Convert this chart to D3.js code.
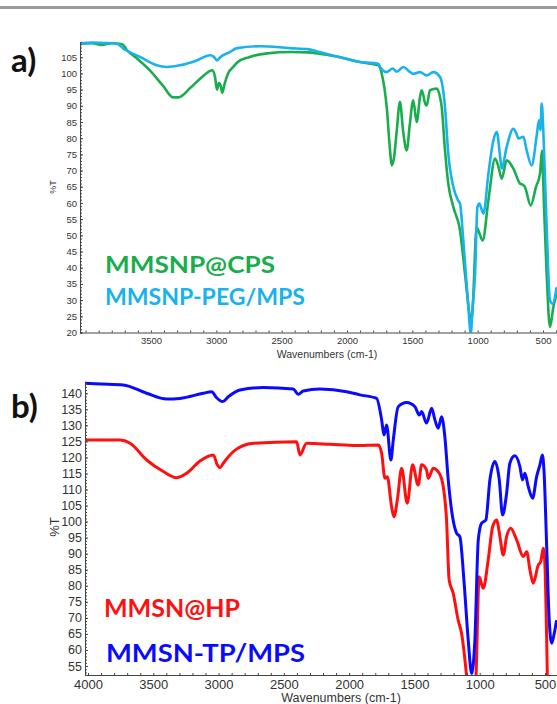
<!DOCTYPE html>
<html>
<head>
<meta charset="utf-8">
<script src="https://cdn.jsdelivr.net/npm/d3@7"></script>
<style>
  html, body { margin: 0; padding: 0; background: #fff; }
  svg { display: block; }
</style>
</head>
<body>
<svg id="chart" width="557" height="704"></svg>
<script>
// panel a) MMSNP@CPS
const cpsWavenumber = [4040, 3950, 3880, 3800, 3720, 3680, 3600, 3510, 3410, 3330, 3290, 3200, 3120, 3060, 3030, 3010, 2995, 2980, 2965, 2955, 2935, 2910, 2870, 2840, 2750, 2610, 2430, 2300, 2200, 2050, 1900, 1760, 1734, 1696, 1670, 1658, 1640, 1620, 1595, 1570, 1543, 1520, 1493, 1467, 1440, 1428, 1400, 1390, 1365, 1314, 1290, 1275, 1250, 1225, 1186, 1135, 1097, 1059, 1050, 1038, 1008, 990, 962, 918, 867, 840, 816, 778, 727, 676, 650, 638, 594, 554, 523, 508, 492, 472, 447, 421, 396];
const cpsTransmittance = [109.2, 109.3, 108.8, 109.3, 109.0, 107.0, 104.4, 101.0, 96.3, 92.6, 92.6, 95.5, 98.5, 100.5, 101.0, 99.0, 95.0, 97.0, 96.0, 94.0, 97.0, 100.0, 102.0, 103.4, 105.0, 106.2, 106.6, 106.5, 106.0, 105.0, 103.5, 102.5, 99.9, 89.6, 76.0, 71.6, 74.0, 82.0, 91.2, 82.0, 76.2, 84.0, 91.7, 85.0, 93.0, 94.8, 90.5, 90.1, 94.8, 95.3, 93.0, 89.6, 76.2, 66.0, 58.7, 51.5, 38.1, 24.7, 23.0, 27.8, 52.5, 51.0, 48.4, 60.8, 73.7, 71.0, 67.5, 73.2, 70.6, 66.0, 65.5, 64.9, 59.2, 64.9, 69.0, 76.2, 58.7, 38.1, 21.7, 27.8, 31.9];

// panel a) MMSNP-PEG/MPS
const pegWavenumber = [4040, 3950, 3850, 3760, 3712, 3584, 3456, 3380, 3278, 3150, 3048, 3020, 2995, 2970, 2900, 2842, 2660, 2436, 2300, 2200, 2054, 1901, 1760, 1747, 1696, 1650, 1620, 1569, 1520, 1493, 1442, 1390, 1339, 1288, 1250, 1225, 1186, 1150, 1135, 1110, 1071, 1053, 1040, 1020, 1002, 987, 970, 956, 918, 880, 854, 830, 816, 778, 727, 700, 689, 650, 625, 587, 548, 531, 520, 510, 497, 472, 447, 426, 396];
const pegTransmittance = [109.3, 109.5, 109.4, 109.2, 107.7, 105.1, 102.5, 102.0, 102.5, 104.0, 105.6, 105.2, 104.0, 105.0, 106.5, 107.8, 108.4, 107.8, 107.5, 106.5, 105.0, 103.5, 103.0, 102.0, 100.4, 101.5, 100.5, 102.0, 100.5, 99.9, 100.4, 99.4, 100.4, 98.9, 89.6, 75.2, 64.9, 60.8, 59.8, 48.4, 27.8, 19.6, 27.0, 38.1, 58.7, 59.8, 58.0, 56.7, 69.0, 79.3, 81.9, 75.0, 70.6, 77.3, 82.9, 81.0, 79.9, 80.4, 76.2, 71.6, 80.9, 85.5, 82.5, 90.7, 81.4, 52.5, 29.9, 28.9, 34.0];

// panel b) MMSN@HP
const hpWavenumber = [4023, 3755, 3678, 3551, 3423, 3321, 3244, 3142, 3040, 3010, 2989, 2964, 2887, 2734, 2402, 2377, 2326, 2147, 1943, 1777, 1751, 1726, 1708, 1675, 1657, 1631, 1598, 1555, 1514, 1471, 1445, 1407, 1394, 1356, 1318, 1284, 1254, 1234, 1203, 1165, 1139, 1100, 1085, 1040, 1030, 1004, 973, 935, 901, 871, 845, 820, 794, 763, 717, 666, 640, 615, 590, 551, 533, 513, 500, 487, 475, 450];
const hpTransmittance = [125.4, 125.4, 124.4, 119.2, 115.6, 113.7, 115.1, 118.9, 120.8, 117.7, 116.8, 118.2, 121.8, 124.4, 124.9, 120.8, 124.4, 124.1, 123.7, 123.9, 121.3, 113.5, 114.0, 104.7, 101.5, 106.7, 116.6, 105.7, 117.7, 111.4, 117.7, 116.1, 113.5, 116.6, 115.6, 112.0, 100.5, 81.8, 77.7, 69.3, 65.2, 51.7, 45.0, 45.0, 50.0, 82.8, 79.2, 88.0, 98.4, 100.5, 95.3, 89.6, 95.3, 97.9, 94.3, 89.1, 90.6, 84.9, 80.8, 86.5, 87.5, 91.7, 86.0, 63.1, 40.0, 40.0];

// panel b) MMSN-TP/MPS
const tpWavenumber = [4023, 3900, 3730, 3551, 3397, 3296, 3117, 3053, 3015, 2969, 2926, 2836, 2658, 2428, 2390, 2351, 2224, 2019, 1917, 1790, 1751, 1733, 1713, 1680, 1662, 1624, 1560, 1496, 1463, 1445, 1407, 1368, 1343, 1318, 1292, 1267, 1241, 1208, 1177, 1152, 1121, 1088, 1062, 1037, 1011, 986, 953, 922, 884, 850, 825, 794, 769, 731, 692, 672, 654, 628, 595, 564, 539, 520, 508, 487, 470, 449, 429, 411];
const tpTransmittance = [143.1, 142.9, 142.6, 140.0, 138.2, 138.4, 140.0, 140.5, 138.6, 137.4, 138.9, 141.0, 141.8, 141.3, 139.7, 140.7, 141.3, 140.5, 139.5, 138.4, 131.7, 127.0, 130.1, 119.2, 125.4, 135.8, 137.1, 135.8, 133.2, 134.3, 130.7, 135.3, 131.7, 129.1, 132.7, 126.5, 113.0, 101.5, 96.4, 95.3, 81.8, 63.1, 52.7, 63.1, 94.3, 99.5, 100.5, 113.0, 118.7, 113.0, 102.1, 108.8, 118.2, 120.5, 117.1, 113.0, 115.1, 110.9, 107.3, 114.0, 117.7, 120.8, 116.1, 92.2, 71.4, 62.1, 65.2, 69.3];

// tick labels
const topYTicks = [20, 25, 30, 35, 40, 45, 50, 55, 60, 65, 70, 75, 80, 85, 90, 95, 100, 105];
const topXTicks = [3500, 3000, 2500, 2000, 1500, 1000, 500];
const bottomYTicks = [55, 60, 65, 70, 75, 80, 85, 90, 95, 100, 105, 110, 115, 120, 125, 130, 135, 140];
const bottomXTicks = [4000, 3500, 3000, 2500, 2000, 1500, 1000, 500];

const svg = d3.select("#chart");

// grey rule at the very top
svg.append("rect")
  .attr("x", 0).attr("y", 6)
  .attr("width", 557).attr("height", 3)
  .attr("fill", "#9a9a9a");

function drawPanel(p) {
  const g = svg.append("g");
  const x = d3.scaleLinear().domain(p.xDomain).range(p.xRange);
  const y = d3.scaleLinear().domain(p.yDomain).range(p.yRange);

  const clipId = "clip-" + p.id;
  svg.append("clipPath").attr("id", clipId)
    .append("rect")
    .attr("x", p.xRange[0]).attr("y", p.yRange[1] - 2)
    .attr("width", p.xRange[1] - p.xRange[0])
    .attr("height", p.yRange[0] - p.yRange[1] + 2);

  // spectra
  const line = d3.line()
    .x(d => x(d[0]))
    .y(d => y(d[1]))
    .curve(d3.curveMonotoneX);

  p.series.forEach(s => {
    g.append("path")
      .datum(d3.zip(s.wn, s.t))
      .attr("clip-path", `url(#${clipId})`)
      .attr("fill", "none")
      .attr("stroke", s.color)
      .attr("stroke-width", p.lineWidth)
      .attr("stroke-linejoin", "round")
      .attr("d", line);
  });

  // y axis: minor ticks every unit, major every 5
  const yMinor = d3.range(Math.ceil(p.yDomain[0]), Math.floor(p.yDomain[1]) + 1);
  const yAxis = d3.axisRight(y).tickValues(yMinor).tickSize(2).tickFormat("");
  const ya = g.append("g").attr("transform", `translate(${p.xRange[0]},0)`).call(yAxis);
  ya.select(".domain").attr("stroke", "#444");
  ya.selectAll(".tick line").attr("stroke", "#444");

  g.append("g").attr("transform", `translate(${p.xRange[0]},0)`)
    .call(d3.axisLeft(y).tickValues(p.yTicks).tickSize(2).tickPadding(1))
    .call(a => a.select(".domain").remove())
    .call(a => a.selectAll(".tick line").attr("stroke", "#444").attr("x2", 3))
    .call(a => a.selectAll("text")
      .attr("fill", "#333")
      .style("font-family", "Liberation Sans, Arial, sans-serif")
      .style("font-size", p.yFont + "px"));

  // x axis
  const xMinor = d3.range(4000, 399, -100);
  const xa = g.append("g").attr("transform", `translate(0,${p.yRange[0]})`)
    .call(d3.axisTop(x).tickValues(xMinor).tickSize(2).tickFormat(""));
  xa.select(".domain").attr("stroke", "#444");
  xa.selectAll(".tick line").attr("stroke", "#444");

  g.append("g").attr("transform", `translate(0,${p.yRange[0]})`)
    .call(d3.axisBottom(x).tickValues(p.xTicks).tickSize(0).tickPadding(p.xPad).tickFormat(d3.format("d")))
    .call(a => a.select(".domain").remove())
    .call(a => a.selectAll("text")
      .attr("fill", "#333")
      .style("font-family", "Liberation Sans, Arial, sans-serif")
      .style("font-size", p.xFont + "px"));

  // axis titles
  g.append("text")
    .attr("x", p.xTitle[0]).attr("y", p.xTitle[1])
    .attr("text-anchor", "middle")
    .attr("fill", "#333")
    .style("font-family", "Liberation Sans, Arial, sans-serif")
    .style("font-size", p.titleFont + "px")
    .text("Wavenumbers (cm-1)");

  g.append("text")
    .attr("transform", `translate(${p.yTitle[0]},${p.yTitle[1]}) rotate(-90)`)
    .attr("text-anchor", "middle")
    .attr("fill", "#333")
    .style("font-family", "Liberation Sans, Arial, sans-serif")
    .style("font-size", p.yTitleFont + "px")
    .text("%T");

  // panel letter
  g.append("text")
    .attr("x", 11).attr("y", p.letterY)
    .attr("fill", "#111")
    .style("font-family", "Lato, sans-serif")
    .style("font-weight", "bold")
    .style("font-size", "33px")
    .text(p.letter);

  // coloured sample names
  p.series.forEach(s => {
    g.append("text")
      .attr("x", s.labelPos[0]).attr("y", s.labelPos[1])
      .attr("fill", s.color)
      .attr("textLength", s.labelWidth)
      .attr("lengthAdjust", "spacingAndGlyphs")
      .style("font-family", "Lato, sans-serif")
      .style("font-weight", "bold")
      .style("font-size", p.labelFont + "px")
      .text(s.name);
  });
}

drawPanel({
  id: "a", letter: "a)", letterY: 72,
  xDomain: [4043, 393], xRange: [80, 557],
  yDomain: [20, 109.7], yRange: [332.5, 42],
  yTicks: topYTicks, xTicks: topXTicks,
  yFont: 9.5, xFont: 9.5, xPad: 5, titleFont: 10.5, yTitleFont: 9,
  xTitle: [327, 358], yTitle: [56, 187],
  lineWidth: 2.6, labelFont: 23,
  series: [
    { name: "MMSNP@CPS", wn: cpsWavenumber, t: cpsTransmittance, color: "#19ad4e", labelPos: [105, 273], labelWidth: 170 },
    { name: "MMSNP-PEG/MPS", wn: pegWavenumber, t: pegTransmittance, color: "#1ab2ec", labelPos: [105, 305], labelWidth: 200 }
  ]
});

drawPanel({
  id: "b", letter: "b)", letterY: 418,
  xDomain: [4023, 408], xRange: [85, 557],
  yDomain: [52.2, 143.2], yRange: [675, 383],
  yTicks: bottomYTicks, xTicks: bottomXTicks,
  yFont: 12.5, xFont: 13, xPad: 5, titleFont: 12.5, yTitleFont: 13,
  xTitle: [341, 702], yTitle: [59, 527],
  lineWidth: 3, labelFont: 25,
  series: [
    { name: "MMSN@HP", wn: hpWavenumber, t: hpTransmittance, color: "#ff1010", labelPos: [104, 617], labelWidth: 136 },
    { name: "MMSN-TP/MPS", wn: tpWavenumber, t: tpTransmittance, color: "#0a0aff", labelPos: [106, 662], labelWidth: 199 }
  ]
});
</script>
</body>
</html>
